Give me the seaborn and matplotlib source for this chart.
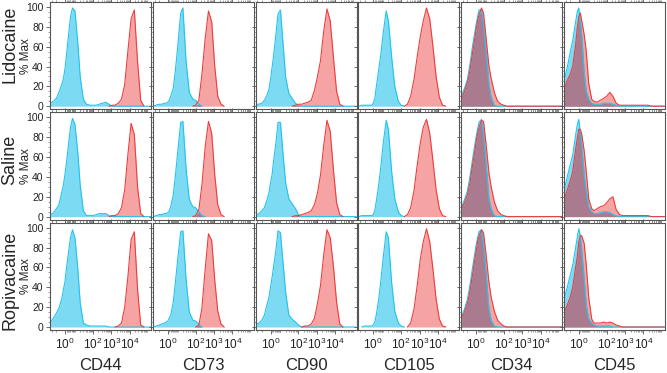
import numpy as np
import pandas as pd
import matplotlib
matplotlib.use('Agg')
import matplotlib.pyplot as plt
from matplotlib.ticker import NullFormatter
import seaborn as sns

# fluorescence channel values (bin centres) shared by every histogram
channel = [-12, -8, -5, -3, -1, 0, 1, 2, 3, 5, 7, 10, 15, 20, 30, 45, 70, 100, 150, 220,
           330, 500, 750, 1100, 1600, 2400, 3600, 5400, 8000, 12000, 18000, 27000, 40000, 60000, 90000, 140000]

markers = ['CD44', 'CD73', 'CD90', 'CD105', 'CD34', 'CD45']
groups = ['Lidocaine', 'Saline', 'Ropivacaine']

# % Max, isotype control (blue) and stained (red)
lid_cd44_ctrl = [3,5,8,14,22,28,38,52,66,90, 99,96,62,30,7,2,1,1,1,2, 3,4,2,0,0,0,0,0,0,0, 0,0,0,0,0,0]
lid_cd44_ab = [0,0,0,0,0,0,0,0,0,0, 0,0,0,0,0,0,0,0,0,0, 0,0,0,1,1,3,7,22,55,88, 97,45,6,0,0,0]
lid_cd73_ctrl = [0,1,2,2,3,3,4,6,10,18, 35,60,94,99,45,14,7,6,2,0, 0,0,0,0,0,0,0,0,0,0, 0,0,0,0,0,0]
lid_cd73_ab = [0,0,0,0,0,0,0,0,0,0, 0,0,0,0,0,0,0,1,6,32, 68,96,85,40,10,2,0,0,0,0, 0,0,0,0,0,0]
lid_cd90_ctrl = [2,2,3,6,12,17,27,39,50,73, 93,97,58,29,13,8,3,1,0,0, 0,0,0,0,0,0,0,0,0,0, 0,0,0,0,0,0]
lid_cd90_ab = [0,0,0,0,0,0,0,0,0,0, 0,0,0,0,0,0,1,2,2,3, 4,6,16,30,46,76,98,86,50,15, 2,0,0,0,0,0]
lid_cd105_ctrl = [0,1,1,1,1,1,3,8,19,37, 52,74,96,86,50,20,5,1,0,0, 0,0,0,0,0,0,0,0,0,0, 0,0,0,0,0,0]
lid_cd105_ab = [0,0,0,0,0,0,0,0,0,0, 0,0,0,0,0,0,0,0,0,2, 10,27,50,70,86,99,88,60,30,9, 1,0,0,0,0,0]
lid_cd34_ctrl = [11,18,27,42,63,72,82,90,97,97, 82,56,22,9,1,0,0,0,0,0, 0,0,0,0,0,0,0,0,0,0, 0,0,0,0,0,0]
lid_cd34_ab = [8,15,24,36,56,66,77,86,92,99, 94,70,40,28,14,5,2,1,0,0, 0,0,0,0,0,0,0,0,0,0, 0,0,0,0,0,0]
lid_cd45_ctrl = [27,39,54,66,85,95,99,85,72,33, 15,7,3,2,2,2,3,3,3,2, 1,0,0,0,0,0,0,0,0,0, 0,0,0,0,0,0]
lid_cd45_ab = [18,26,32,40,62,78,90,94,86,72, 55,23,7,5,4,6,8,10,14,10, 3,1,1,1,1,1,1,1,1,1, 1,0,0,0,0,0]

sal_cd44_ctrl = [2,4,8,12,25,32,43,55,68,90, 99,93,63,32,6,1,1,1,2,3, 3,3,1,0,0,0,0,0,0,0, 0,0,0,0,0,0]
sal_cd44_ab = [0,0,0,0,0,0,0,0,0,0, 0,0,0,0,0,0,0,0,0,0, 0,0,0,1,1,3,9,27,62,94, 83,30,3,0,0,0]
sal_cd73_ctrl = [0,1,2,2,3,3,4,6,10,22, 40,65,95,96,48,17,10,9,5,1, 0,0,0,0,0,0,0,0,0,0, 0,0,0,0,0,0]
sal_cd73_ab = [0,0,0,0,0,0,0,0,0,0, 0,0,0,0,0,0,0,1,7,32, 70,96,84,42,12,2,0,0,0,0, 0,0,0,0,0,0]
sal_cd90_ctrl = [2,3,6,9,18,24,34,42,55,75, 95,95,58,34,18,13,8,2,0,0, 0,0,0,0,0,0,0,0,0,0, 0,0,0,0,0,0]
sal_cd90_ab = [0,0,0,0,0,0,0,0,0,0, 0,0,0,0,0,0,1,1,2,3, 4,6,12,24,42,72,97,86,48,14, 2,0,0,0,0,0]
sal_cd105_ctrl = [0,1,1,1,1,1,2,6,15,32, 50,74,97,88,46,18,5,1,0,0, 0,0,0,0,0,0,0,0,0,0, 0,0,0,0,0,0]
sal_cd105_ab = [0,0,0,0,0,0,0,0,0,0, 0,0,0,0,0,0,0,0,0,2, 9,26,52,74,90,98,84,56,27,8, 1,0,0,0,0,0]
sal_cd34_ctrl = [10,17,26,40,60,70,80,88,95,98, 84,55,18,8,1,0,0,0,0,0, 0,0,0,0,0,0,0,0,0,0, 0,0,0,0,0,0]
sal_cd34_ab = [8,14,22,34,54,64,75,84,90,97, 96,74,44,30,15,6,2,1,0,0, 0,0,0,0,0,0,0,0,0,0, 0,0,0,0,0,0]
sal_cd45_ctrl = [28,40,52,62,82,92,98,85,72,42, 25,10,5,3,3,4,5,5,4,2, 1,0,0,0,0,0,0,0,0,0, 0,0,0,0,0,0]
sal_cd45_ab = [18,27,36,45,68,78,88,88,83,66, 45,18,8,6,8,10,11,14,18,20, 7,2,1,1,1,1,1,1,1,1, 1,0,0,0,0,0]

rop_cd44_ctrl = [5,9,14,19,29,38,46,60,71,90, 98,90,57,25,4,2,1,1,1,1, 1,1,0,0,0,0,0,0,0,0, 0,0,0,0,0,0]
rop_cd44_ab = [0,0,0,0,0,0,0,0,0,0, 0,0,0,0,0,0,0,0,0,0, 0,0,0,0,0,1,4,20,50,88, 96,38,2,0,0,0]
rop_cd73_ctrl = [0,1,2,3,4,5,6,9,12,25, 44,68,96,97,48,15,7,6,3,0, 0,0,0,0,0,0,0,0,0,0, 0,0,0,0,0,0]
rop_cd73_ab = [0,0,0,0,0,0,0,0,0,0, 0,0,0,0,0,0,0,0,2,19, 58,94,87,47,16,3,0,0,0,0, 0,0,0,0,0,0]
rop_cd90_ctrl = [3,4,7,12,24,30,40,50,60,78, 97,95,60,35,12,8,5,2,0,0, 0,0,0,0,0,0,0,0,0,0, 0,0,0,0,0,0]
rop_cd90_ab = [0,0,0,0,0,0,0,0,0,0, 0,0,0,0,0,0,0,0,0,1, 1,3,9,24,42,73,98,90,62,25, 3,0,0,0,0,0]
rop_cd105_ctrl = [0,0,1,1,1,1,2,5,12,28, 46,70,96,90,45,16,4,1,0,0, 0,0,0,0,0,0,0,0,0,0, 0,0,0,0,0,0]
rop_cd105_ab = [0,0,0,0,0,0,0,0,0,0, 0,0,0,0,0,0,0,0,0,0, 4,18,42,68,86,99,86,58,28,8, 1,0,0,0,0,0]
rop_cd34_ctrl = [11,18,28,42,62,72,82,90,96,98, 84,56,18,7,1,0,0,0,0,0, 0,0,0,0,0,0,0,0,0,0, 0,0,0,0,0,0]
rop_cd34_ab = [9,15,24,36,55,66,76,86,92,98, 95,74,45,30,16,7,3,1,0,0, 0,0,0,0,0,0,0,0,0,0, 0,0,0,0,0,0]
rop_cd45_ctrl = [29,40,52,62,80,90,99,92,78,48, 22,8,4,2,1,1,1,1,1,0, 0,0,0,0,0,0,0,0,0,0, 0,0,0,0,0,0]
rop_cd45_ab = [15,22,30,40,60,70,86,92,92,84, 62,30,8,4,4,4,5,4,5,4, 2,1,0,0,0,0,0,0,0,0, 0,0,0,0,0,0]

panels = [
    [(lid_cd44_ctrl, lid_cd44_ab), (lid_cd73_ctrl, lid_cd73_ab), (lid_cd90_ctrl, lid_cd90_ab),
     (lid_cd105_ctrl, lid_cd105_ab), (lid_cd34_ctrl, lid_cd34_ab), (lid_cd45_ctrl, lid_cd45_ab)],
    [(sal_cd44_ctrl, sal_cd44_ab), (sal_cd73_ctrl, sal_cd73_ab), (sal_cd90_ctrl, sal_cd90_ab),
     (sal_cd105_ctrl, sal_cd105_ab), (sal_cd34_ctrl, sal_cd34_ab), (sal_cd45_ctrl, sal_cd45_ab)],
    [(rop_cd44_ctrl, rop_cd44_ab), (rop_cd73_ctrl, rop_cd73_ab), (rop_cd90_ctrl, rop_cd90_ab),
     (rop_cd105_ctrl, rop_cd105_ab), (rop_cd34_ctrl, rop_cd34_ab), (rop_cd45_ctrl, rop_cd45_ab)],
]

cyan_fill, cyan_line = '#7cdaf3', '#22c4ee'
red_fill, red_line = '#f6a3a3', '#ee3d3d'
both_fill = '#ba5c6e'   # drawn at alpha .75 over the cyan fill -> muted mauve

sns.set_style('ticks')
plt.rcParams['font.family'] = ['Liberation Sans', 'DejaVu Sans']
plt.rcParams['mathtext.fontset'] = 'custom'
plt.rcParams['mathtext.rm'] = 'Liberation Sans'
plt.rcParams['mathtext.default'] = 'regular'

fig, axs = plt.subplots(3, 6, figsize=(6.67, 3.73), dpi=100)
fig.subplots_adjust(left=50/667, right=665/667, top=1-2/373, bottom=1-330/373, wspace=0.015, hspace=0.03)

x = np.array(channel, dtype=float)
minor_x = [-10, -5] + [m * 10**d for d in range(0, 5) for m in range(2, 10)] + [10]

for r in range(3):
    for c in range(6):
        ax = axs[r, c]
        ctrl = np.array(panels[r][c][0], dtype=float)
        ab = np.array(panels[r][c][1], dtype=float)
        ax.set_xscale('asinh', linear_width=5)

        lines = []
        for y in (ctrl, ab):
            keep = (y > 0) | (np.roll(y, 1) > 0) | (np.roll(y, -1) > 0)
            lines.append(pd.DataFrame({'ch': x[keep], 'pct': y[keep]}))

        ax.fill_between(x, ab, color=red_fill, lw=0)
        ax.fill_between(x, ctrl, color=cyan_fill, lw=0)
        sns.lineplot(data=lines[0], x='ch', y='pct', color=cyan_line, lw=0.8, ax=ax, legend=False)
        ax.fill_between(x, np.minimum(ctrl, ab), color=both_fill, alpha=0.75, lw=0)
        sns.lineplot(data=lines[1], x='ch', y='pct', color=red_line, lw=0.8, ax=ax, legend=False)

        ax.set_xlim(-13, 150000)
        ax.set_ylim(-3, 105)
        ax.set_xlabel('')
        ax.set_ylabel('')
        ax.set_yticks(range(0, 101, 20))
        ax.set_yticks(range(0, 101, 5), minor=True)
        ax.set_xticks([1, 100, 1000, 10000], ['10$^{0}$', '10$^{2}$', '10$^{3}$', '10$^{4}$'])
        ax.set_xticks(minor_x, minor=True)
        ax.xaxis.set_minor_formatter(NullFormatter())
        ax.tick_params(which='major', length=3, width=0.6, color='#555555', direction='out',
                       top=True, labelsize=7.5, pad=1.5, labelcolor='#222222')
        ax.tick_params(which='minor', length=1.5, width=0.5, color='#777777', direction='out', top=True)
        ax.tick_params(axis='x', labelsize=8.5, pad=2)
        for s in ax.spines.values():
            s.set_color('#555555')
            s.set_linewidth(0.8)
        if c > 0:
            ax.tick_params(axis='y', labelleft=False)
        if r < 2:
            ax.tick_params(axis='x', labelbottom=False)

# column titles under the bottom row
for c, name in enumerate(markers):
    pos = axs[2, c].get_position()
    fig.text((pos.x0 + pos.x1) / 2, 1 - 365/373, name, ha='center', va='center', fontsize=12)

# row titles
row_y = [44, 160, 280]
for r, name in enumerate(groups):
    pos = axs[r, 0].get_position()
    fig.text(10/667, 1 - row_y[r]/373, name, rotation=90, ha='center', va='center', fontsize=13)
    fig.text(26/667, (pos.y0 + pos.y1) / 2, '% Max', rotation=90, ha='center', va='center', fontsize=8.5)

fig.savefig('out.png', dpi=100)
